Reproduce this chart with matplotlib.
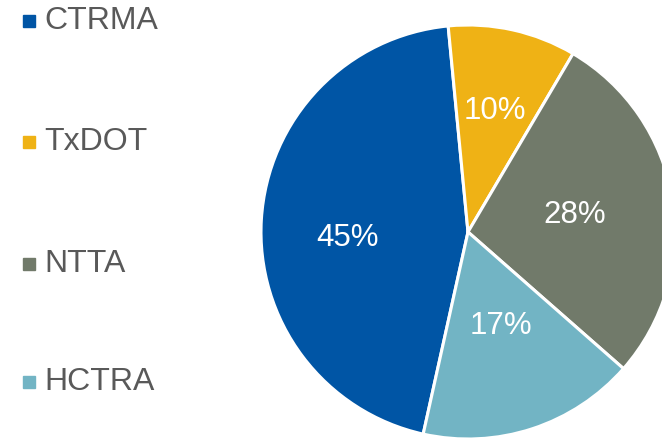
import matplotlib.pyplot as plt
import numpy as np

plt.rcParams['font.family'] = ['Liberation Sans', 'DejaVu Sans']

# Data
categories = ["CTRMA", "TxDOT", "NTTA", "HCTRA"]
shares = [45, 10, 28, 17]
colors = ["#0055A5", "#EFB215", "#717A6A", "#72B4C4"]
# label placement inside each wedge (fraction of radius, extra angle in deg)
label_dist = [0.585, 0.60, 0.52, 0.48]
label_rot = [6.5, 0, 0, 1.5]

fig = plt.figure(figsize=(6.62, 4.38), dpi=100)

# pie axes: centre (468, 232) px, radius 207 px
W, H = 662, 438
cx, cy, r = 468, 232, 207
ax = fig.add_axes([(cx - r) / W, (H - cy - r) / H, 2 * r / W, 2 * r / H])
wedges, texts = ax.pie(shares, colors=colors, startangle=-102.5, counterclock=False,
                       radius=1, wedgeprops=dict(edgecolor="white", linewidth=2.2))
ax.set_xlim(-1, 1)
ax.set_ylim(-1, 1)
ax.set_aspect("equal")
ax.axis("off")

for w, v, d, rot in zip(wedges, shares, label_dist, label_rot):
    ang = np.deg2rad((w.theta1 + w.theta2) / 2 + rot)
    ax.text(d * np.cos(ang), d * np.sin(ang), f"{v}%", color="white",
            fontsize=22.5, ha="center", va="center")

# legend on the left
leg_y = [21, 142, 264, 382]
for name, c, y in zip(categories, colors, leg_y):
    fy = 1 - y / H
    fig.patches.append(plt.Rectangle((23 / W, fy - 6 / H), 12 / W, 12 / H,
                                     transform=fig.transFigure, color=c))
    fig.text(44 / W, fy, name, fontsize=23, color="#595959", va="center", ha="left")

fig.savefig("out.png", dpi=100)
